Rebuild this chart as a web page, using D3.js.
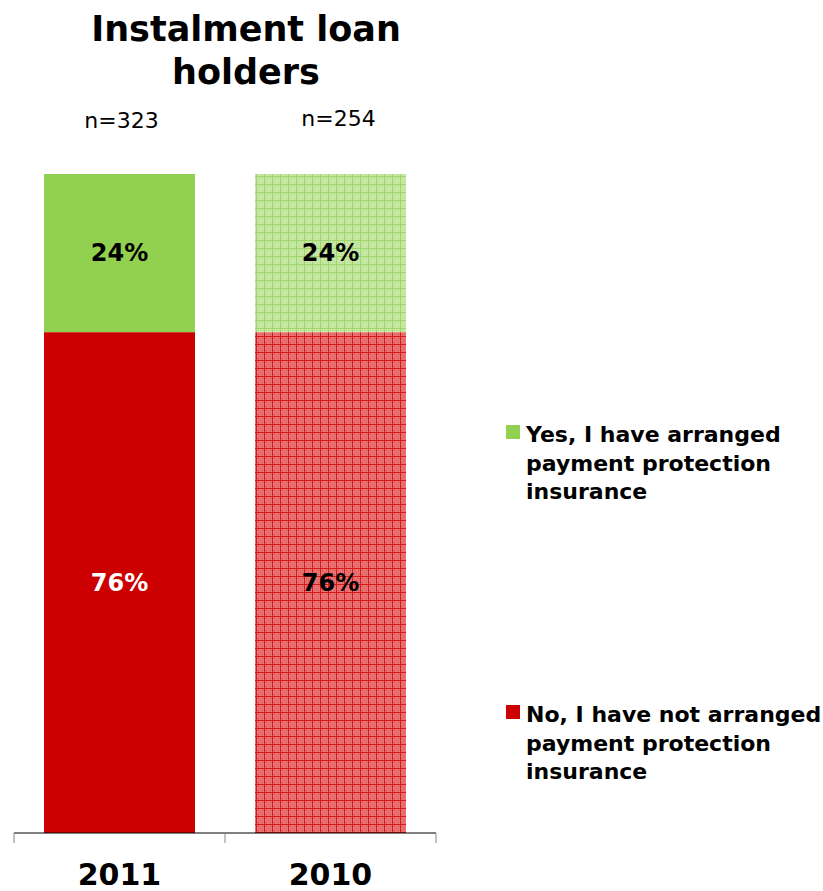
<!DOCTYPE html>
<html>
<head>
<meta charset="utf-8">
<script src="https://cdn.jsdelivr.net/npm/d3@7"></script>
<style>
  html, body { margin: 0; padding: 0; background: #ffffff; }
  svg { display: block; }
  text { font-family: Tahoma, "DejaVu Sans", Verdana, sans-serif; }
</style>
</head>
<body>
<svg id="chart" width="823" height="891"></svg>
<script>
// Survey waves and sample sizes
const years = ["2011", "2010"];
const sampleSizes = ["n=323", "n=254"];
// Share of respondents per answer (percent), stacked bottom to top
const noShares = [76, 76];
const yesShares = [24, 24];
const seriesNames = [
  ["Yes, I have arranged", "payment protection", "insurance"],
  ["No, I have not arranged", "payment protection", "insurance"]
];
const title = ["Instalment loan", "holders"];

const svg = d3.select("#chart");

const plot = { left: 14, right: 436, top: 174, bottom: 833 };

const x = d3.scaleBand()
  .domain(years)
  .range([plot.left, plot.right])
  .paddingInner(60 / 211)
  .paddingOuter(30 / 211);

const y = d3.scaleLinear()
  .domain([0, 100])
  .range([plot.bottom, plot.top]);

// Fine grid fills for the earlier wave
const defs = svg.append("defs");
function gridPattern(id, base, line, dot) {
  const p = defs.append("pattern")
    .attr("id", id)
    .attr("patternUnits", "userSpaceOnUse")
    .attr("width", 8).attr("height", 8);
  p.append("rect").attr("width", 8).attr("height", 8).attr("fill", base);
  p.append("rect").attr("x", 0).attr("y", 0).attr("width", 8).attr("height", 1).attr("fill", line);
  p.append("rect").attr("x", 0).attr("y", 0).attr("width", 1).attr("height", 8).attr("fill", line);
  [[2, 2], [4, 4], [6, 6], [2, 6], [6, 2]].forEach(([cx, cy]) => {
    p.append("rect").attr("x", cx).attr("y", cy).attr("width", 1).attr("height", 1).attr("fill", dot);
  });
  return `url(#${id})`;
}
const greenSolid = "#92d050";
const redSolid = "#cc0000";
const greenHatch = gridPattern("hatchGreen", "#c6e8a4", "#9fd66c", "#afde84");
const redHatch = gridPattern("hatchRed", "#e97272", "#d81818", "#df4444");

const fills = {
  "2011": { yes: greenSolid, no: redSolid, noText: "#ffffff" },
  "2010": { yes: greenHatch, no: redHatch, noText: "#000000" }
};

const rows = years.map((yr, i) => ({ year: yr, no: noShares[i], yes: yesShares[i], n: sampleSizes[i] }));
const stack = d3.stack().keys(["no", "yes"])(rows);

const g = svg.append("g");
stack.forEach(layer => {
  g.selectAll(null)
    .data(layer)
    .join("rect")
    .attr("x", d => x(d.data.year))
    .attr("width", x.bandwidth())
    .attr("y", d => y(d[1]))
    .attr("height", d => y(d[0]) - y(d[1]))
    .attr("fill", d => fills[d.data.year][layer.key]);

  g.selectAll(null)
    .data(layer)
    .join("text")
    .attr("x", d => x(d.data.year) + x.bandwidth() / 2)
    .attr("y", d => (y(d[0]) + y(d[1])) / 2)
    .attr("dy", "0.35em")
    .attr("text-anchor", "middle")
    .attr("font-weight", "bold")
    .attr("font-size", 24)
    .attr("fill", d => layer.key === "no" ? fills[d.data.year].noText : "#000000")
    .text(d => `${d.data[layer.key]}%`);
});

// Category axis with tick marks between the bars
const axisG = svg.append("g").attr("transform", `translate(0,${plot.bottom})`);
axisG.append("line")
  .attr("x1", plot.left).attr("x2", plot.right)
  .attr("y1", 0).attr("y2", 0)
  .attr("stroke", "#000000").attr("stroke-width", 1);
const step = x.step();
const tickXs = d3.range(years.length + 1).map(i => plot.left + i * step);
axisG.selectAll(".tick")
  .data(tickXs)
  .join("line")
  .attr("x1", d => d).attr("x2", d => d)
  .attr("y1", 0).attr("y2", 10)
  .attr("stroke", "#868686").attr("stroke-width", 1);
axisG.selectAll(".yr")
  .data(years)
  .join("text")
  .attr("x", d => x(d) + x.bandwidth() / 2)
  .attr("y", 52)
  .attr("text-anchor", "middle")
  .attr("font-weight", "bold")
  .attr("font-size", 30)
  .attr("fill", "#000000")
  .text(d => d);

// Sample sizes above each bar
svg.selectAll(".n")
  .data(rows)
  .join("text")
  .attr("x", (d, i) => x(d.year) + x.bandwidth() / 2 + (i === 0 ? 2 : 8))
  .attr("y", (d, i) => i === 0 ? 128 : 126)
  .attr("text-anchor", "middle")
  .attr("font-size", 22)
  .attr("fill", "#000000")
  .text(d => d.n);

// Title
svg.append("text")
  .attr("x", 246)
  .attr("text-anchor", "middle")
  .attr("font-weight", "bold")
  .attr("font-size", 35)
  .attr("fill", "#000000")
  .selectAll("tspan")
  .data(title)
  .join("tspan")
  .attr("x", 246)
  .attr("y", (d, i) => 41 + i * 43)
  .text(d => d);

// Legend
const legend = [
  { color: greenSolid, lines: seriesNames[0], top: 425 },
  { color: redSolid, lines: seriesNames[1], top: 705 }
];
const lg = svg.selectAll(".legend")
  .data(legend)
  .join("g");
lg.append("rect")
  .attr("x", 506).attr("y", d => d.top)
  .attr("width", 14).attr("height", 14)
  .attr("fill", d => d.color);
lg.append("text")
  .attr("font-weight", "bold")
  .attr("font-size", 22)
  .attr("fill", "#000000")
  .each(function (d) {
    d3.select(this).selectAll("tspan")
      .data(d.lines)
      .join("tspan")
      .attr("x", 526)
      .attr("y", (t, i) => d.top + 17 + i * 28.5)
      .text(t => t);
  });
</script>
</body>
</html>
